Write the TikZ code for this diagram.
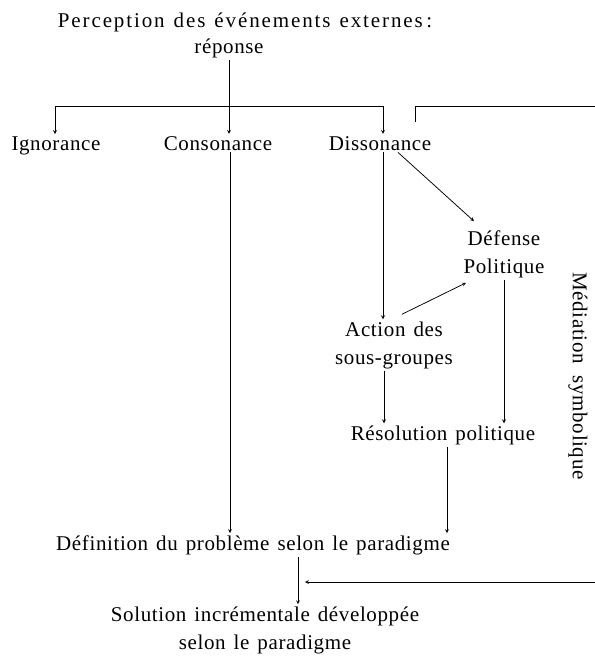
\documentclass[tikz,border=0pt]{standalone}
\usepackage{fontspec}
\setmainfont{Liberation Serif}
\usetikzlibrary{arrows, positioning}

\newcommand\labfont{\fontsize{21}{28}\selectfont\addfontfeature{LetterSpace=3}\spaceskip=8pt plus 2pt minus 1pt\relax}
\newcommand\titlefont{\fontsize{21}{28}\selectfont\addfontfeature{LetterSpace=9}\spaceskip=9pt plus 2pt minus 1pt\relax}

\begin{document}
\begin{tikzpicture}[x=1pt, y=-1pt,
    % Define styles
    label/.style={font=\labfont, align=center, inner sep=2pt},
    arrow/.style={->, >=stealth, line width=0.75pt},
    link/.style={line width=0.75pt}
  ]
  \useasboundingbox (0,0) rectangle (595,657);

  % Perception
  \node[label, font=\titlefont] (percep) at (245,22) {Perception des événements externes\,:};
  \node[label] (reponse) at (229,48) {réponse};

  % Three responses
  \node[label, anchor=base] (ign) at (56,150) {Ignorance};
  \node[label, anchor=base] (cons) at (218,150) {Consonance};
  \node[label, anchor=base] (diss) at (380,150) {Dissonance};

  \coordinate (bl) at (55,106);
  \coordinate (br) at (383,106);
  \draw[arrow] (reponse.south) -- (reponse.south |- cons.north);
  \draw[link] (bl) -- (br);
  \draw[arrow] (bl) -- (bl |- ign.north);
  \draw[arrow] (br) -- (br |- diss.north);

  % Dissonance branch
  \node[label] (def) at (504,254) {Défense\\Politique};
  \node[label] (action) at (394,345) {Action des\\sous-groupes};
  \node[label] (resol) at (443,435) {Résolution politique};

  \draw[arrow] (br |- diss.south) -- (br |- action.north);
  \draw[arrow] ([xshift=18pt]diss.south) -- ([xshift=-30pt,yshift=7pt]def.north);
  \draw[arrow] ([xshift=8pt,yshift=5pt]action.north) -- ([xshift=-38pt,yshift=-3pt]def.south);
  \draw[arrow] (def.south) -- (def.south |- resol.north);
  \draw[arrow] ([xshift=-10pt]action.south) -- ([xshift=-10pt]action.south |- resol.north);

  % Definition and solution
  \node[label] (defin) at (253,545) {Définition du problème selon le paradigme};
  \node[label] (sol) at (265,630) {Solution incrémentale développée\\selon le paradigme};

  \draw[arrow] ([xshift=12pt]cons.south) -- ([xshift=12pt]cons.south |- defin.north);
  \draw[arrow] ([xshift=4pt]resol.south) -- ([xshift=4pt]resol.south |- defin.north);
  \draw[arrow] ([xshift=45pt]defin.south) -- ([xshift=45pt]defin.south |- sol.north);

  % Symbolic mediation loop
  \coordinate (mtop) at (415,122);
  \coordinate (mret) at (305,582);
  \draw[arrow] (mtop) |- (600,106) |- (mret);
  \node[label, rotate=-90] (medi) at (578,376) {Médiation\hspace{4pt} symbolique};

\end{tikzpicture}
\end{document}
